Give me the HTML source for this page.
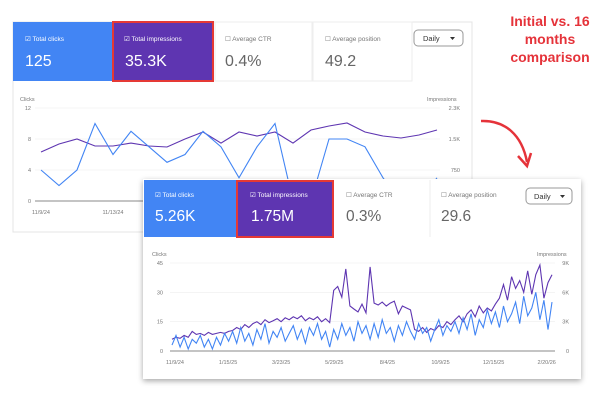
<!DOCTYPE html>
<html><head><meta charset="utf-8"><style>
html,body{margin:0;padding:0;background:#fff;width:600px;height:400px;overflow:hidden;font-family:"Liberation Sans",sans-serif}
svg{display:block}
</style></head><body>
<svg id="s" width="600" height="400" viewBox="0 0 600 400" xmlns="http://www.w3.org/2000/svg" font-family="Liberation Sans, sans-serif">
<defs>
<filter id="sh" x="-5%" y="-5%" width="110%" height="115%"><feDropShadow dx="0" dy="2" stdDeviation="3" flood-color="#000" flood-opacity="0.35"/></filter>
</defs>
<!-- annotation -->
<g fill="#e5333a" font-weight="bold" font-size="14" text-anchor="middle">
<text x="550" y="26">Initial vs. 16</text>
<text x="550" y="44">months</text>
<text x="550" y="62">comparison</text>
</g>
<path d="M481,121 C505,120 522,135 527,162" fill="none" stroke="#e5333a" stroke-width="2.5"/>
<path d="M518,156 L527,166 L531,153" fill="none" stroke="#e5333a" stroke-width="2.5"/>

<!-- back card -->
<g id="back">
<rect x="13" y="22" width="459" height="210" fill="#fff" stroke="#e4e4e4"/>
<rect x="13" y="22" width="100" height="59" fill="#4285f4"/>
<text x="25" y="41" fill="#fff" font-size="6.5">☑ Total clicks</text>
<text x="25" y="66" fill="#fff" font-size="16">125</text>
<rect x="113" y="22" width="100" height="59" fill="#5e35b1" stroke="#e53935" stroke-width="2"/>
<text x="124" y="41" fill="#fff" font-size="6.5">☑ Total impressions</text>
<text x="125" y="66" fill="#fff" font-size="16">35.3K</text>
<rect x="215" y="22" width="97" height="59" fill="#fff" stroke="#eee"/>
<text x="225" y="41" fill="#777" font-size="6.5">☐ Average CTR</text>
<text x="225" y="66" fill="#666" font-size="16">0.4%</text>
<rect x="313" y="22" width="99" height="59" fill="#fff" stroke="#eee"/>
<text x="325" y="41" fill="#777" font-size="6.5">☐ Average position</text>
<text x="325" y="66" fill="#666" font-size="16">49.2</text>
<rect x="414" y="30" width="49" height="16" rx="4" fill="#fff" stroke="#999"/>
<text x="423" y="41" fill="#333" font-size="7.5">Daily</text>
<path d="M450,37 l5,0 l-2.5,3z" fill="#333"/>
<text x="20" y="101" fill="#777" font-size="5.5">Clicks</text>
<text x="427" y="101" fill="#777" font-size="5.5">Impressions</text>
<g id="backAxes"></g>
<g id="backLines"></g>
</g>

<!-- front card -->
<g id="front">
<rect x="143" y="179" width="438" height="200" fill="#fff" filter="url(#sh)"/>
<rect x="144" y="180" width="93" height="57" fill="#4285f4"/>
<text x="155" y="197" fill="#fff" font-size="6.5">☑ Total clicks</text>
<text x="155" y="221" fill="#fff" font-size="15.5">5.26K</text>
<rect x="237" y="181" width="96" height="56" fill="#5e35b1" stroke="#e53935" stroke-width="2"/>
<text x="250" y="197" fill="#fff" font-size="6.5">☑ Total impressions</text>
<text x="251" y="221" fill="#fff" font-size="15.5">1.75M</text>
<text x="346" y="197" fill="#777" font-size="6.5">☐ Average CTR</text>
<text x="346" y="221" fill="#666" font-size="15.5">0.3%</text>
<line x1="430" y1="180" x2="430" y2="237" stroke="#eee"/>
<text x="441" y="197" fill="#777" font-size="6.5">☐ Average position</text>
<text x="441" y="221" fill="#666" font-size="15.5">29.6</text>
<rect x="526" y="188" width="46" height="16" rx="4" fill="#fff" stroke="#999"/>
<text x="534" y="199" fill="#333" font-size="7.5">Daily</text>
<path d="M560,195 l5,0 l-2.5,3z" fill="#333"/>
<text x="152" y="256" fill="#777" font-size="5.5">Clicks</text>
<text x="537" y="256" fill="#777" font-size="5.5">Impressions</text>
<g id="frontAxes"></g>
<g id="frontLines"></g>
</g>
</svg>
<script>
// ---- back chart data (11/9/24 .. ~12/1/24) ----
const backClicks = [4,2,4,10,6,9,7,5,6,9,7,3,7,10,0,0,8,8,7,3,0,0,3];
const backImpressions = [1185,1380,1500,1330,1330,1400,1330,1306,1500,1670,1400,1670,1573,1670,1400,1718,1815,1887,1670,1573,1524,1597,1718];
const backLeftTicks = [0,4,8,12];
const backRightTickLabels = ["","750","1.5K","2.3K"];
const backXLabels = ["11/9/24","11/13/24"];
// ---- front chart data (11/9/24 .. 3/2026) ----
const frontClicks = [3,8,2,7,1,6,4,8,2,6,1,7,3,9,5,
10,4,12,5,9,3,11,6,14,4,10,7,
12,5,9,13,6,11,4,12,8,14,6,10,2,
11,6,14,8,12,5,15,9,13,6,
14,7,16,9,12,5,13,8,15,10,
6,14,9,12,5,11,16,8,13,10,
15,9,17,11,19,8,16,12,21,14,
20,12,23,15,19,25,14,28,18,22,30,16,26,11,25];
const frontImpressionsK = [1.2,1.4,1.3,1.6,1.4,2.0,1.7,1.8,1.6,1.9,1.7,1.8,1.9,1.8,2.0,
2.1,2.4,2.2,2.7,2.4,2.8,3.0,2.7,3.2,2.9,3.1,3.3,
3.0,3.4,3.2,3.5,3.3,3.6,3.1,3.4,3.2,3.5,3.0,3.3,2.9,
6.2,6.6,5.5,8.4,4.6,4.3,4.0,4.8,3.9,8.6,
4.9,4.7,5.0,4.6,4.9,5.1,3.8,4.6,4.4,4.2,
2.2,2.0,2.4,1.9,2.3,2.1,2.6,2.4,3.0,2.7,
3.2,3.6,3.0,3.8,4.2,3.5,4.6,3.9,4.4,4.1,
4.8,5.4,6.8,5.2,7.6,6.4,7.2,6.0,8.2,5.8,7.8,8.8,5.4,7.0,7.8];
const frontLeftTicks = [0,15,30,45];
const frontRightTickLabels = ["0","3K","6K","9K"];
const frontXLabels = ["11/9/24","1/15/25","3/23/25","5/29/25","8/4/25","10/9/25","12/15/25","2/20/26"];

const NS="http://www.w3.org/2000/svg";
function mk(tag,attrs,parent){const e=document.createElementNS(NS,tag);for(const k in attrs)e.setAttribute(k,attrs[k]);parent.appendChild(e);return e;}

function drawChart(cfg){
  const ax=document.getElementById(cfg.axesId), ln=document.getElementById(cfg.linesId);
  const yL=v=>cfg.y0-(v/cfg.lmax)*(cfg.y0-cfg.y1);
  const yR=v=>cfg.y0-(v/cfg.rmax)*(cfg.y0-cfg.y1);
  cfg.leftTicks.forEach((t,i)=>{
    const g=mk('line',{x1:cfg.gx0,x2:cfg.gx1,y1:yL(t),y2:yL(t),stroke:i==0?'#888':'#eee','stroke-width':i==0?1:0.6},ax);
    
    
    const tl=mk('text',{x:cfg.lx,y:yL(t)+2,'font-size':5.5,fill:'#777','text-anchor':'end'},ax);tl.textContent=t;
    
    
    const tr=mk('text',{x:cfg.rx,y:yL(t)+2,'font-size':5.5,fill:'#777','text-anchor':'end'},ax);tr.textContent=cfg.rightLabels[i];
    
    
  });
  cfg.xLabels.forEach((l,i)=>{
    const t=mk('text',{x:cfg.xl0+i*cfg.xlStep,y:cfg.xly,'font-size':5.5,fill:'#777','text-anchor':'middle'},ax);t.textContent=l;
    
    
  });
  const n1=cfg.imp.length, n2=cfg.clicks.length;
  const xi=(i,n)=>cfg.px0+i*(cfg.px1-cfg.px0)/(n-1);
  const p1=mk('polyline',{points:cfg.imp.map((v,i)=>xi(i,n1).toFixed(1)+','+yR(v).toFixed(1)).join(' '),fill:'none',stroke:'#5e35b1','stroke-width':cfg.sw},ln);
  
  
  const p2=mk('polyline',{points:cfg.clicks.map((v,i)=>xi(i,n2).toFixed(1)+','+yL(v).toFixed(1)).join(' '),fill:'none',stroke:'#4285f4','stroke-width':cfg.sw},ln);
  
  
}
drawChart({axesId:'backAxes',linesId:'backLines',y0:201,y1:108,lmax:12,rmax:2250,gx0:35,gx1:440,lx:31,rx:460,
  leftTicks:backLeftTicks,rightLabels:backRightTickLabels,xLabels:backXLabels,xl0:41,xlStep:72,xly:214,
  px0:41,px1:437,clicks:backClicks,imp:backImpressions,sw:1.1});
drawChart({axesId:'frontAxes',linesId:'frontLines',y0:351,y1:263,lmax:45,rmax:9,gx0:170,gx1:555,lx:163,rx:569,
  leftTicks:frontLeftTicks,rightLabels:frontRightTickLabels,xLabels:frontXLabels,xl0:175,xlStep:53.1,xly:364,
  px0:172,px1:552,clicks:frontClicks,imp:frontImpressionsK,sw:1.1});
// keep lines of back chart beneath front card
document.getElementById('s').appendChild(document.getElementById('front'));
</script>
</body></html>
